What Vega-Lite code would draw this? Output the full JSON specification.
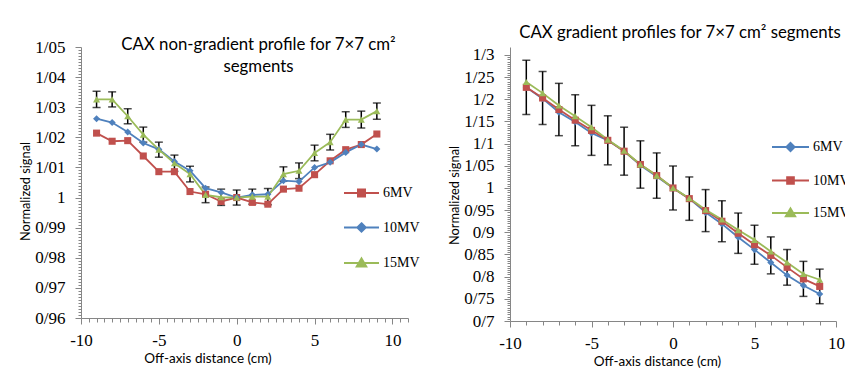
{
  "$schema": "https://vega.github.io/schema/vega-lite/v6.json",
  "background": "white",
  "padding": {"left": 19, "top": 25, "right": 0, "bottom": 0},
  "spacing": 28,
  "config": {
    "view": {"stroke": null},
    "axis": {"grid": false, "domainColor": "#868686", "tickColor": "#868686", "labelFont": "Liberation Serif", "labelFontSize": 17, "labelColor": "black", "titleFont": "Lato", "titleFontSize": 13, "titleFontWeight": "normal", "titleColor": "black", "labelOverlap": false, "labelFlush": false},
    "axisX": {"titleFontSize": 13.5},
    "axisY": {"titleFontSize": 12.8},
    "legend": {"labelFont": "Liberation Serif", "labelFontSize": 14, "labelColor": "black", "padding": 0}
  },
  "datasets": {
    "left": [
      {"x": -9, "s": "6MV", "v": 1.0214}, {"x": -8, "s": "6MV", "v": 1.0187}, {"x": -7, "s": "6MV", "v": 1.0189}, {"x": -6, "s": "6MV", "v": 1.0138}, {"x": -5, "s": "6MV", "v": 1.0086}, {"x": -4, "s": "6MV", "v": 1.0086}, {"x": -3, "s": "6MV", "v": 1.002}, {"x": -2, "s": "6MV", "v": 1.0011}, {"x": -1, "s": "6MV", "v": 0.9987}, {"x": 0, "s": "6MV", "v": 1.0}, {"x": 1, "s": "6MV", "v": 0.9984}, {"x": 2, "s": "6MV", "v": 0.9978}, {"x": 3, "s": "6MV", "v": 1.0028}, {"x": 4, "s": "6MV", "v": 1.0031}, {"x": 5, "s": "6MV", "v": 1.0076}, {"x": 6, "s": "6MV", "v": 1.0122}, {"x": 7, "s": "6MV", "v": 1.0159}, {"x": 8, "s": "6MV", "v": 1.0176}, {"x": 9, "s": "6MV", "v": 1.0211},
      {"x": -9, "s": "10MV", "v": 1.0262}, {"x": -8, "s": "10MV", "v": 1.0249}, {"x": -7, "s": "10MV", "v": 1.0218}, {"x": -6, "s": "10MV", "v": 1.0181}, {"x": -5, "s": "10MV", "v": 1.016}, {"x": -4, "s": "10MV", "v": 1.012}, {"x": -3, "s": "10MV", "v": 1.0089}, {"x": -2, "s": "10MV", "v": 1.0031}, {"x": -1, "s": "10MV", "v": 1.0017}, {"x": 0, "s": "10MV", "v": 1.0}, {"x": 1, "s": "10MV", "v": 1.0009}, {"x": 2, "s": "10MV", "v": 1.0011}, {"x": 3, "s": "10MV", "v": 1.0056}, {"x": 4, "s": "10MV", "v": 1.0053}, {"x": 5, "s": "10MV", "v": 1.01}, {"x": 6, "s": "10MV", "v": 1.0117}, {"x": 7, "s": "10MV", "v": 1.015}, {"x": 8, "s": "10MV", "v": 1.0176}, {"x": 9, "s": "10MV", "v": 1.0161},
      {"x": -9, "s": "15MV", "v": 1.0326, "e": 0.0027}, {"x": -8, "s": "15MV", "v": 1.0326, "e": 0.0025}, {"x": -7, "s": "15MV", "v": 1.027, "e": 0.0025}, {"x": -6, "s": "15MV", "v": 1.0209, "e": 0.0025}, {"x": -5, "s": "15MV", "v": 1.0159, "e": 0.0025}, {"x": -4, "s": "15MV", "v": 1.0114, "e": 0.0027}, {"x": -3, "s": "15MV", "v": 1.0078, "e": 0.0026}, {"x": -2, "s": "15MV", "v": 1.0009, "e": 0.0026}, {"x": -1, "s": "15MV", "v": 1.0001, "e": 0.0027}, {"x": 0, "s": "15MV", "v": 1.0, "e": 0.0025}, {"x": 1, "s": "15MV", "v": 1.0003, "e": 0.0025}, {"x": 2, "s": "15MV", "v": 1.0003, "e": 0.0027}, {"x": 3, "s": "15MV", "v": 1.0078, "e": 0.0024}, {"x": 4, "s": "15MV", "v": 1.0089, "e": 0.0026}, {"x": 5, "s": "15MV", "v": 1.0148, "e": 0.0026}, {"x": 6, "s": "15MV", "v": 1.0184, "e": 0.0026}, {"x": 7, "s": "15MV", "v": 1.0259, "e": 0.0026}, {"x": 8, "s": "15MV", "v": 1.0259, "e": 0.0028}, {"x": 9, "s": "15MV", "v": 1.0287, "e": 0.0027}
    ],
    "right": [
      {"x": -9, "s": "6MV", "v": 1.227}, {"x": -8, "s": "6MV", "v": 1.2015}, {"x": -7, "s": "6MV", "v": 1.171}, {"x": -6, "s": "6MV", "v": 1.149}, {"x": -5, "s": "6MV", "v": 1.124}, {"x": -4, "s": "6MV", "v": 1.1075}, {"x": -3, "s": "6MV", "v": 1.083}, {"x": -2, "s": "6MV", "v": 1.051}, {"x": -1, "s": "6MV", "v": 1.026}, {"x": 0, "s": "6MV", "v": 1.0}, {"x": 1, "s": "6MV", "v": 0.976}, {"x": 2, "s": "6MV", "v": 0.945}, {"x": 3, "s": "6MV", "v": 0.919}, {"x": 4, "s": "6MV", "v": 0.889}, {"x": 5, "s": "6MV", "v": 0.861}, {"x": 6, "s": "6MV", "v": 0.832}, {"x": 7, "s": "6MV", "v": 0.803}, {"x": 8, "s": "6MV", "v": 0.78}, {"x": 9, "s": "6MV", "v": 0.761},
      {"x": -9, "s": "10MV", "v": 1.227, "e": 0.0613}, {"x": -8, "s": "10MV", "v": 1.203, "e": 0.0598}, {"x": -7, "s": "10MV", "v": 1.177, "e": 0.059}, {"x": -6, "s": "10MV", "v": 1.153, "e": 0.0575}, {"x": -5, "s": "10MV", "v": 1.13, "e": 0.0564}, {"x": -4, "s": "10MV", "v": 1.1075, "e": 0.0553}, {"x": -3, "s": "10MV", "v": 1.083, "e": 0.0541}, {"x": -2, "s": "10MV", "v": 1.053, "e": 0.0534}, {"x": -1, "s": "10MV", "v": 1.028, "e": 0.0511}, {"x": 0, "s": "10MV", "v": 1.0, "e": 0.0496}, {"x": 1, "s": "10MV", "v": 0.976, "e": 0.0489}, {"x": 2, "s": "10MV", "v": 0.949, "e": 0.0474}, {"x": 3, "s": "10MV", "v": 0.925, "e": 0.0462}, {"x": 4, "s": "10MV", "v": 0.898, "e": 0.0455}, {"x": 5, "s": "10MV", "v": 0.872, "e": 0.044}, {"x": 6, "s": "10MV", "v": 0.848, "e": 0.0417}, {"x": 7, "s": "10MV", "v": 0.821, "e": 0.0402}, {"x": 8, "s": "10MV", "v": 0.795, "e": 0.0395}, {"x": 9, "s": "10MV", "v": 0.778, "e": 0.039},
      {"x": -9, "s": "15MV", "v": 1.239}, {"x": -8, "s": "15MV", "v": 1.214}, {"x": -7, "s": "15MV", "v": 1.186}, {"x": -6, "s": "15MV", "v": 1.162}, {"x": -5, "s": "15MV", "v": 1.137}, {"x": -4, "s": "15MV", "v": 1.109}, {"x": -3, "s": "15MV", "v": 1.084}, {"x": -2, "s": "15MV", "v": 1.053}, {"x": -1, "s": "15MV", "v": 1.028}, {"x": 0, "s": "15MV", "v": 1.0}, {"x": 1, "s": "15MV", "v": 0.977}, {"x": 2, "s": "15MV", "v": 0.951}, {"x": 3, "s": "15MV", "v": 0.929}, {"x": 4, "s": "15MV", "v": 0.905}, {"x": 5, "s": "15MV", "v": 0.883}, {"x": 6, "s": "15MV", "v": 0.857}, {"x": 7, "s": "15MV", "v": 0.832}, {"x": 8, "s": "15MV", "v": 0.806}, {"x": 9, "s": "15MV", "v": 0.793}
    ]
  },
  "hconcat": [
    {
      "width": 327,
      "height": 271,
      "data": {"name": "left"},
      "title": {"text": "CAX non-gradient profile for 7×7 cm²", "subtitle": "segments", "subtitlePadding": 5, "dx": 14, "offset": -38,
        "font": "Lato", "fontSize": 16.8, "fontWeight": "normal", "color": "black", "anchor": "middle", "frame": "group", "subtitleFont": "Lato", "subtitleFontSize": 16.8, "subtitleColor": "black"},
      "encoding": {
        "x": {"field": "x", "type": "quantitative", "scale": {"domain": [-10, 11], "nice": false, "zero": false},
          "axis": {"title": "Off-axis distance (cm)", "titleX": 126.5, "titlePadding": 3, "labelPadding": 8,
            "values": [-10,-9.5,-9,-8.5,-8,-7.5,-7,-6.5,-6,-5.5,-5,-4.5,-4,-3.5,-3,-2.5,-2,-1.5,-1,-0.5,0,0.5,1,1.5,2,2.5,3,3.5,4,4.5,5,5.5,6,6.5,7,7.5,8,8.5,9,9.5,10,10.5,11],
            "labelExpr": "datum.value % 5 === 0 ? '' + datum.value : ''",
            "tickSize": {"condition": {"test": "datum.value % 5 === 0", "value": 6}, "value": 4}}},
        "y": {"field": "v", "type": "quantitative", "scale": {"domain": [0.96, 1.05], "nice": false, "zero": false},
          "axis": {"title": "Normalized signal", "titleY": 144, "titlePadding": 2, "labelPadding": 10,
            "values": [0.96,0.961,0.962,0.963,0.964,0.965,0.966,0.967,0.968,0.969,0.97,0.971,0.972,0.973,0.974,0.975,0.976,0.977,0.978,0.979,0.98,0.981,0.982,0.983,0.984,0.985,0.986,0.987,0.988,0.989,0.99,0.991,0.992,0.993,0.994,0.995,0.996,0.997,0.998,0.999,1,1.001,1.002,1.003,1.004,1.005,1.006,1.007,1.008,1.009,1.01,1.011,1.012,1.013,1.014,1.015,1.016,1.017,1.018,1.019,1.02,1.021,1.022,1.023,1.024,1.025,1.026,1.027,1.028,1.029,1.03,1.031,1.032,1.033,1.034,1.035,1.036,1.037,1.038,1.039,1.04,1.041,1.042,1.043,1.044,1.045,1.046,1.047,1.048,1.049,1.05],
            "labelExpr": "abs(round(datum.value*100)-datum.value*100) < 1e-6 ? replace(format(datum.value, '.2~f'), '.', '/') : ''",
            "tickSize": {"condition": {"test": "abs(round(datum.value*100)-datum.value*100) < 1e-6", "value": 6}, "value": 3}}}
      },
      "layer": [
        {"transform": [{"filter": "isValid(datum.e)"}],
         "mark": {"type": "errorbar", "ticks": {"size": 8, "thickness": 1.5, "color": "black"}, "thickness": 1.5, "color": "black"},
         "encoding": {"yError": {"field": "e"}}},
        {"mark": {"type": "line", "strokeWidth": 1.8},
         "encoding": {"color": {"field": "s", "type": "nominal", "scale": {"domain": ["6MV", "10MV", "15MV"], "range": ["#C0504D", "#4F81BD", "#9BBB59"]},
           "legend": {"orient": "none", "legendX": 262, "legendY": 127.5, "title": null, "symbolSize": 1225, "symbolStrokeWidth": 2, "labelOffset": 3, "rowPadding": 8.5,
             "encode": {"symbols": {"update": {
               "shape": {"signal": "datum.value === '6MV' ? 'M-1,0H1M-0.2,-0.2H0.2V0.2H-0.2Z' : datum.value === '10MV' ? 'M-1,0H1M0,-0.24L0.24,0L0,0.24L-0.24,0Z' : 'M-1,0H1M0,-0.26L0.27,0.2H-0.27Z'"},
               "fill": {"signal": "datum.value === '6MV' ? '#C0504D' : datum.value === '10MV' ? '#4F81BD' : '#9BBB59'"},
               "stroke": {"signal": "datum.value === '6MV' ? '#C0504D' : datum.value === '10MV' ? '#4F81BD' : '#9BBB59'"},
               "strokeWidth": {"value": 2}, "opacity": {"value": 1}}}}}}}},
        {"mark": {"type": "point", "filled": true, "opacity": 1, "size": 50},
         "encoding": {"color": {"field": "s", "type": "nominal", "scale": {"domain": ["6MV", "10MV", "15MV"], "range": ["#C0504D", "#4F81BD", "#9BBB59"]}, "legend": null},
           "shape": {"condition": [{"test": "datum.s === '6MV'", "value": "square"}, {"test": "datum.s === '10MV'", "value": "diamond"}], "value": "triangle-up"}}}
      ]
    },
    {
      "width": 326,
      "height": 274,
      "data": {"name": "right"},
      "title": {"text": "CAX gradient profiles for 7×7 cm² segments", "dx": 7, "offset": 4,
        "font": "Lato", "fontSize": 16.8, "fontWeight": "normal", "color": "black", "anchor": "middle", "frame": "group"},
      "encoding": {
        "x": {"field": "x", "type": "quantitative", "scale": {"domain": [-10, 10], "nice": false, "zero": false},
          "axis": {"title": "Off-axis distance (cm)", "titleX": 147, "titlePadding": 3, "labelPadding": 8,
            "values": [-10,-9,-8,-7,-6,-5,-4,-3,-2,-1,0,1,2,3,4,5,6,7,8,9,10],
            "labelExpr": "datum.value % 5 === 0 ? '' + datum.value : ''",
            "tickSize": {"condition": {"test": "datum.value % 5 === 0", "value": 6}, "value": 4}}},
        "y": {"field": "v", "type": "quantitative", "scale": {"domain": [0.7, 1.318], "nice": false, "zero": false},
          "axis": {"title": "Normalized signal", "titleY": 148, "titlePadding": 2, "labelPadding": 10,
            "values": [0.7,0.705,0.71,0.715,0.72,0.725,0.73,0.735,0.74,0.745,0.75,0.755,0.76,0.765,0.77,0.775,0.78,0.785,0.79,0.795,0.8,0.805,0.81,0.815,0.82,0.825,0.83,0.835,0.84,0.845,0.85,0.855,0.86,0.865,0.87,0.875,0.88,0.885,0.89,0.895,0.9,0.905,0.91,0.915,0.92,0.925,0.93,0.935,0.94,0.945,0.95,0.955,0.96,0.965,0.97,0.975,0.98,0.985,0.99,0.995,1,1.005,1.01,1.015,1.02,1.025,1.03,1.035,1.04,1.045,1.05,1.055,1.06,1.065,1.07,1.075,1.08,1.085,1.09,1.095,1.1,1.105,1.11,1.115,1.12,1.125,1.13,1.135,1.14,1.145,1.15,1.155,1.16,1.165,1.17,1.175,1.18,1.185,1.19,1.195,1.2,1.205,1.21,1.215,1.22,1.225,1.23,1.235,1.24,1.245,1.25,1.255,1.26,1.265,1.27,1.275,1.28,1.285,1.29,1.295,1.3],
            "labelExpr": "abs(round(datum.value*20)-datum.value*20) < 1e-6 ? replace(format(datum.value, '.2~f'), '.', '/') : ''",
            "tickSize": {"condition": {"test": "abs(round(datum.value*20)-datum.value*20) < 1e-6", "value": 6}, "value": 3}}}
      },
      "layer": [
        {"transform": [{"filter": "isValid(datum.e)"}],
         "mark": {"type": "errorbar", "ticks": {"size": 8, "thickness": 1.5, "color": "black"}, "thickness": 1.5, "color": "black"},
         "encoding": {"yError": {"field": "e"}}},
        {"mark": {"type": "line", "strokeWidth": 1.8},
         "encoding": {"color": {"field": "s", "type": "nominal", "scale": {"domain": ["6MV", "10MV", "15MV"], "range": ["#4F81BD", "#C0504D", "#9BBB59"]},
           "legend": {"orient": "none", "legendX": 261, "legendY": 80.5, "title": null, "symbolSize": 1369, "symbolStrokeWidth": 2, "labelOffset": 3, "rowPadding": 5.5,
             "encode": {"symbols": {"update": {
               "shape": {"signal": "datum.value === '10MV' ? 'M-1,0H1M-0.18,-0.18H0.18V0.18H-0.18Z' : datum.value === '6MV' ? 'M-1,0H1M0,-0.22L0.22,0L0,0.22L-0.22,0Z' : 'M-1,0H1M0,-0.24L0.25,0.18H-0.25Z'"},
               "fill": {"signal": "datum.value === '10MV' ? '#C0504D' : datum.value === '6MV' ? '#4F81BD' : '#9BBB59'"},
               "stroke": {"signal": "datum.value === '10MV' ? '#C0504D' : datum.value === '6MV' ? '#4F81BD' : '#9BBB59'"},
               "strokeWidth": {"value": 2}, "opacity": {"value": 1}}}}}}}},
        {"mark": {"type": "point", "filled": true, "opacity": 1, "size": 50},
         "encoding": {"color": {"field": "s", "type": "nominal", "scale": {"domain": ["6MV", "10MV", "15MV"], "range": ["#4F81BD", "#C0504D", "#9BBB59"]}, "legend": null},
           "shape": {"condition": [{"test": "datum.s === '10MV'", "value": "square"}, {"test": "datum.s === '6MV'", "value": "diamond"}], "value": "triangle-up"}}}
      ]
    }
  ],
  "resolve": {"scale": {"color": "independent"}, "legend": {"color": "independent"}}
}
